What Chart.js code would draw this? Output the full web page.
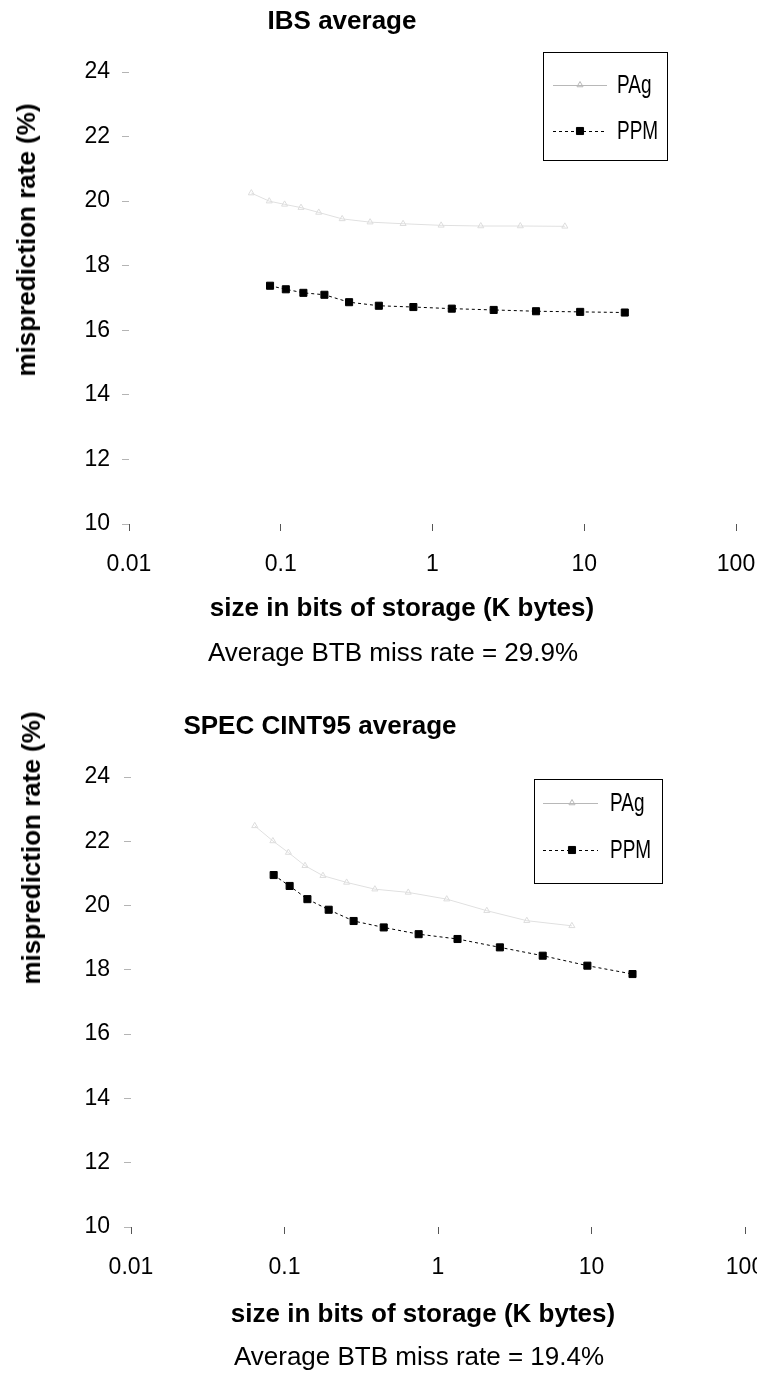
<!DOCTYPE html>
<html>
<head>
<meta charset="utf-8">
<title>PAg vs PPM misprediction</title>
<script src="https://cdn.jsdelivr.net/npm/chart.js@4.4.1/dist/chart.umd.min.js"></script>
<style>
body{margin:0;background:#fff;font-family:"Liberation Sans",Arial,sans-serif}
#page{position:relative;width:757px;height:1380px;overflow:hidden}
.box{position:absolute;left:0;width:757px;height:690px}
.box canvas{display:block}
.txt{position:absolute;white-space:nowrap;transform:translate(-50%,-50%);line-height:1;font-size:26px;color:#000}
.b{font-weight:bold}
.rot{transform:translate(-50%,-50%) rotate(-90deg)}
</style>
</head>
<body>
<div id="page">
<div class="box" style="top:0"><canvas id="ibsChart" width="757" height="690"></canvas></div>
<div class="box" style="top:690px"><canvas id="specChart" width="757" height="690"></canvas></div>

<div class="txt b" style="left:342px;top:20px">IBS average</div>
<div class="txt b rot" style="left:26px;top:240px">misprediction rate (%)</div>
<div class="txt b" style="left:402px;top:607px">size in bits of storage (K bytes)</div>
<div class="txt" style="left:393px;top:652px">Average BTB miss rate = 29.9%</div>

<div class="txt b" style="left:320px;top:725px">SPEC CINT95 average</div>
<div class="txt b rot" style="left:31px;top:848px">misprediction rate (%)</div>
<div class="txt b" style="left:423px;top:1313px">size in bits of storage (K bytes)</div>
<div class="txt" style="left:419px;top:1356px">Average BTB miss rate = 19.4%</div>
</div>

<script>
// storage sizes (K bytes) for each predictor configuration
const ppmSizes=[0.085,0.108,0.141,0.194,0.282,0.443,0.748,1.34,2.53,4.81,9.4,18.5]
const pagSizes=[0.064,0.084,0.106,0.136,0.178,0.254,0.388,0.64,1.14,2.08,3.79,7.45]

// misprediction rate (%)
const ibsPPM=[17.38,17.27,17.16,17.10,16.87,16.76,16.72,16.67,16.63,16.59,16.57,16.55]
const ibsPAg=[20.25,20.0,19.9,19.8,19.65,19.45,19.35,19.3,19.25,19.23,19.23,19.22]
const specPPM=[20.95,20.61,20.2,19.87,19.52,19.32,19.11,18.96,18.7,18.44,18.13,17.87]
const specPAg=[22.48,22.01,21.65,21.24,20.93,20.72,20.51,20.41,20.2,19.84,19.53,19.37]

const xTicks=[0.01,0.1,1,10,100]
const xTickLabels=["0.01","0.1","1","10","100"]
const yMin=10,yMax=24,yStep=2

const seriesNames=["PAg","PPM"]

const FONT="'Liberation Sans', Arial, sans-serif"

function pts(xs,ys){
return xs.map((x,i)=>({x:x,y:ys[i]}))
}

/* legend drawn as a framed box like the original */
const legendBox={
id:"legendBox",
afterDatasetsDraw(chart,args,o){
const ctx=chart.ctx
ctx.save()
ctx.setLineDash([])
ctx.strokeStyle="#000"
ctx.lineWidth=1
ctx.strokeRect(o.x+0.5,o.y+0.5,o.w,o.h)
chart.data.datasets.forEach((ds,i)=>{
const y=o.rows[i]
ctx.strokeStyle=ds.legendColor||ds.borderColor
ctx.lineWidth=1
ctx.setLineDash(ds.borderDash||[])
ctx.beginPath()
ctx.moveTo(o.x1,y+0.5)
ctx.lineTo(o.x2,y+0.5)
ctx.stroke()
ctx.setLineDash([])
ctx.fillStyle=ds.pointBackgroundColor
ctx.strokeStyle=ds.legendColor||ds.pointBorderColor
ctx.lineWidth=ds.pointBorderWidth
Chart.helpers.drawPoint(ctx,{pointStyle:ds.pointStyle,radius:ds.pointRadius,rotation:0,borderWidth:ds.pointBorderWidth},o.xm,y)
ctx.save()
ctx.translate(o.tx,y)
ctx.scale(0.76,1)
ctx.fillStyle="#000"
ctx.font="25px "+FONT
ctx.textBaseline="middle"
ctx.fillText(ds.label,0,1)
ctx.restore()
})
ctx.restore()
}
}

function makeChart(id,pag,ppm,lay,leg){
const keepPad=s=>{s.paddingLeft=0;s.paddingRight=0}
return new Chart(document.getElementById(id),{
type:"line",
data:{
datasets:[{
label:seriesNames[0],
data:pts(pagSizes,pag),
borderColor:"#e0e0e0",
legendColor:"#b8b8b8",
borderWidth:1,
pointStyle:"triangle",
pointRadius:3.5,
pointBackgroundColor:"rgba(255,255,255,0)",
pointBorderColor:"#dddddd",
pointBorderWidth:1,
order:1
},{
label:seriesNames[1],
data:pts(ppmSizes,ppm),
borderColor:"#000",
borderWidth:1,
borderDash:[3,3],
pointStyle:"rect",
pointRadius:5,
pointBackgroundColor:"#000",
pointBorderColor:"#000",
pointBorderWidth:1,
order:0
}]
},
options:{
responsive:false,
animation:false,
devicePixelRatio:1,
layout:{padding:{top:lay.top,left:0,right:lay.right,bottom:0}},
plugins:{
legend:{display:false},
tooltip:{enabled:false},
legendBox:leg
},
scales:{
x:{
type:"logarithmic",
min:xTicks[0],
max:xTicks[xTicks.length-1],
afterBuildTicks:s=>{s.ticks=xTicks.map(v=>({value:v}))},
afterFit:s=>{s.height=lay.xh;keepPad(s)},
border:{display:false},
grid:{drawOnChartArea:false,drawTicks:true,tickLength:7,color:"#555"},
ticks:{
autoSkip:false,
maxRotation:0,
padding:lay.xpad,
color:"#000",
font:{family:FONT,size:23},
callback:(v,i)=>xTickLabels[i]
}
},
y:{
min:yMin,
max:yMax,
afterFit:s=>{s.width=lay.left},
border:{display:false},
grid:{drawOnChartArea:false,drawTicks:true,tickLength:7,color:"#b4b4b4"},
ticks:{
stepSize:yStep,
padding:lay.ypad,
color:"#000",
font:{family:FONT,size:23}
}
}
}
},
plugins:[legendBox]
})
}

makeChart("ibsChart",ibsPAg,ibsPPM,
{top:72,right:21,left:129,xh:166,xpad:20,ypad:12},
{x:543,y:52,w:124,h:108,rows:[85,131],x1:553,x2:607,xm:580,tx:617})

makeChart("specChart",specPAg,specPPM,
{top:87,right:12,left:131,xh:153,xpad:20,ypad:14},
{x:534,y:89,w:128,h:104,rows:[113,160],x1:543,x2:598,xm:572,tx:610})
</script>
</body>
</html>
